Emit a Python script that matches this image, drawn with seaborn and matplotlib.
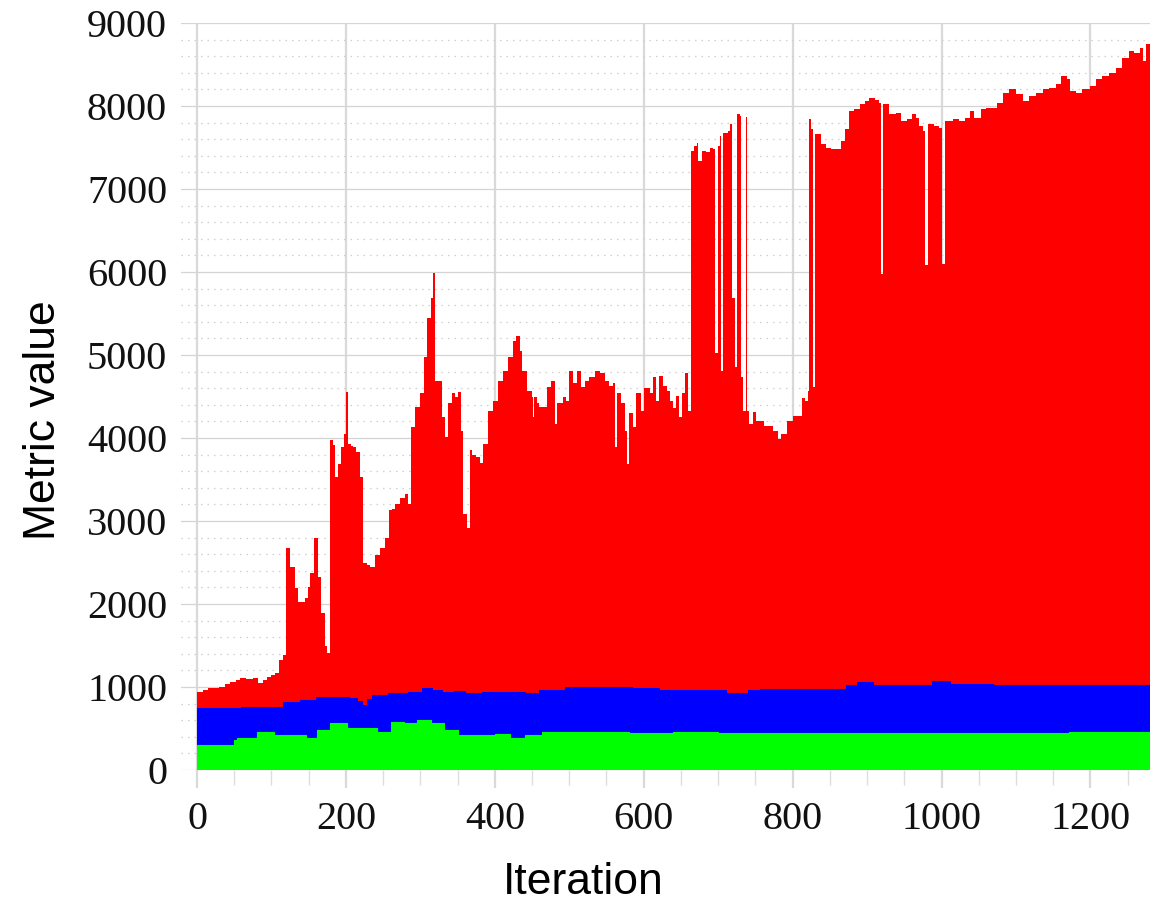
import numpy as np
import pandas as pd
import matplotlib
matplotlib.use("Agg")
import matplotlib.pyplot as plt
from matplotlib.ticker import MultipleLocator
import seaborn as sns

# red layer: cumulative top (iteration, value)
red_x = [0, 8, 15, 21, 30, 38, 44, 52, 58, 66, 75, 82, 88, 94, 100, 105, 110, 116,
         120, 125, 131, 136, 142, 145, 149, 152, 157, 161, 163, 167, 172, 175,
         178, 183, 186, 190, 194, 198, 200, 203, 207, 210, 214, 219, 223, 228,
         232, 239, 246, 252, 258, 262, 266, 272, 279, 284, 287, 293, 299, 305,
         309, 314, 317, 320, 325, 329, 333, 337, 342, 346, 350, 354, 357, 362,
         366, 370, 375, 380, 384, 391, 397, 404, 411, 418, 424, 428, 434, 436,
         443, 450, 451, 453, 456, 460, 464, 470, 476, 481, 483, 487, 491, 496,
         500, 505, 511, 516, 521, 527, 534, 541, 548, 554, 559, 562, 564, 570,
         575, 578, 580, 585, 590, 597, 601, 608, 612, 617, 621, 626, 631, 635,
         639, 644, 648, 652, 656, 659, 663, 668, 671, 673, 678, 684, 689, 693,
         696, 700, 702, 704, 707, 713, 716, 719, 722, 725, 729, 731, 734, 737,
         739, 742, 747, 751, 756, 762, 769, 774, 780, 785, 792, 800, 807, 812,
         816, 820, 822, 825, 827, 830, 834, 838, 845, 852, 861, 865, 870, 876,
         883, 890, 897, 903, 910, 916, 919, 922, 930, 939, 946, 953, 960, 966,
         970, 975, 978, 982, 990, 996, 1000, 1004, 1015, 1024, 1031, 1038, 1044,
         1053, 1060, 1069, 1075, 1082, 1091, 1100, 1109, 1118, 1127, 1136, 1145,
         1154, 1161, 1168, 1172, 1181, 1189, 1199, 1208, 1216, 1225, 1235, 1243,
         1252, 1259, 1266, 1270, 1274, 1280]
red_top = [940, 960, 990, 990, 1000, 1040, 1060, 1080, 1110, 1100, 1110, 1050, 1080,
           1120, 1140, 1170, 1320, 1380, 2680, 2440, 2190, 2020, 2030, 2070, 2200,
           2370, 2790, 2800, 2320, 1890, 1500, 1410, 3970, 3910, 3530, 3690, 3890,
           4050, 4550, 3930, 3900, 3890, 3830, 3530, 2500, 2470, 2440, 2590, 2680,
           2800, 3130, 3150, 3210, 3280, 3330, 3210, 4130, 4370, 4540, 4970, 5450,
           5690, 5990, 4690, 4690, 4250, 4010, 4420, 4540, 4490, 4550, 4090, 3090,
           2920, 3850, 3800, 3770, 3700, 3930, 4330, 4450, 4690, 4810, 4970, 5170,
           5230, 5050, 4810, 4570, 4490, 4250, 4490, 4420, 4370, 4370, 4610, 4690,
           4170, 4420, 4420, 4490, 4450, 4810, 4660, 4810, 4610, 4690, 4730, 4810,
           4780, 4690, 4630, 4660, 3890, 4540, 4420, 4090, 3690, 4300, 4130, 4540,
           4330, 4600, 4540, 4730, 4450, 4750, 4630, 4570, 4450, 4360, 4510, 4250,
           4540, 4780, 4330, 7460, 7520, 7560, 7340, 7460, 7440, 7500, 7480, 5020,
           7520, 7640, 4810, 7680, 7700, 7780, 5690, 4850, 7900, 7880, 4730, 4330,
           7870, 4330, 4170, 4310, 4210, 4210, 4150, 4150, 4090, 3990, 4050, 4210,
           4270, 4270, 4480, 4450, 4570, 7840, 7720, 4620, 7660, 7660, 7540, 7500,
           7480, 7480, 7580, 7720, 7940, 7960, 8020, 8060, 8100, 8070, 8040, 5980,
           8020, 7900, 7920, 7820, 7840, 7900, 7860, 7760, 7700, 6080, 7780, 7760,
           7740, 6100, 7820, 7840, 7820, 7860, 7940, 7860, 7960, 7980, 7980, 8040,
           8160, 8200, 8140, 8060, 8120, 8160, 8200, 8220, 8260, 8360, 8330, 8180,
           8160, 8200, 8240, 8330, 8360, 8400, 8460, 8580, 8660, 8640, 8700, 8540,
           8750, 8900]

# blue layer: cumulative top
blue_x = [0, 20, 48, 59, 94, 115, 138, 160, 181, 204, 215, 222, 228, 235, 257, 284,
          302, 315, 329, 345, 360, 383, 409, 441, 459, 494, 539, 584, 620, 660, 702,
          710, 728, 740, 756, 859, 872, 886, 908, 935, 971, 987, 1011, 1069, 1150,
          1230, 1280]
blue_top = [746, 750, 746, 758, 760, 818, 842, 878, 878, 866, 830, 782, 860, 902, 926,
            938, 986, 960, 938, 950, 926, 938, 938, 926, 962, 998, 998, 986, 962, 962,
            962, 926, 926, 962, 974, 974, 1030, 1058, 1022, 1022, 1022, 1070, 1034,
            1022, 1025, 1030, 1046]

# green layer: top
green_x = [0, 38, 46, 50, 54, 72, 81, 103, 139, 146, 161, 179, 202, 224, 242, 260, 278,
           296, 314, 332, 350, 373, 400, 420, 440, 463, 520, 580, 639, 700, 800, 900,
           1000, 1100, 1171, 1280]
green_top = [300, 300, 300, 360, 385, 385, 457, 421, 421, 385, 481, 565, 505, 505, 457,
             577, 565, 601, 565, 481, 421, 421, 430, 385, 421, 457, 460, 450, 457, 445,
             445, 440, 445, 445, 457, 457]

x_ticks = [0, 200, 400, 600, 800, 1000, 1200]
y_ticks = [0, 1000, 2000, 3000, 4000, 5000, 6000, 7000, 8000, 9000]

sns.set_theme(style="white")
plt.rcParams["font.family"] = ["Liberation Serif", "DejaVu Serif"]

fig = plt.figure(figsize=(11.5, 9.06), dpi=100)
ax = fig.add_axes([181 / 1150, 1 - 770 / 906, 1 - 181 / 1150, (770 - 23) / 906])

layers = [
    (red_x, red_top, "#ff0000"),
    (blue_x, blue_top, "#0000ff"),
    (green_x, green_top, "#00ff00"),
]
for xs, ys, col in layers:
    ax.fill_between(xs, 0, ys, step="post", color=col, linewidth=0, zorder=2)

# thin boundary lines between the layers
for xs, ys, col in layers[1:]:
    df = pd.DataFrame({"iteration": xs, "value": ys})
    sns.lineplot(data=df, x="iteration", y="value", ax=ax, color=col,
                 linewidth=0.8, drawstyle="steps-post", zorder=3, sort=False)

ax.set_xlim(-21.5, 1280)
ax.set_ylim(0, 9000)
ax.set_xticks(x_ticks)
ax.set_yticks(y_ticks)
ax.xaxis.set_minor_locator(MultipleLocator(50))
ax.yaxis.set_minor_locator(MultipleLocator(200))

ax.grid(False)
ax.grid(axis="x", which="major", color="#d9d9d9", linewidth=1.6, zorder=0)
ax.grid(axis="y", which="major", color="#d4d4d4", linewidth=0.9, zorder=0)
ax.grid(axis="y", which="minor", color="#cfcfcf", linewidth=0.9,
        linestyle=(0, (1.2, 4)), zorder=0)
ax.set_axisbelow(True)

for s in ax.spines.values():
    s.set_visible(False)

ax.tick_params(axis="x", which="major", direction="out", length=13, width=1.6,
               color="#d9d9d9", pad=9, labelsize=29, bottom=True)
ax.tick_params(axis="x", which="minor", direction="out", length=11, width=1.0,
               color="#dddddd", bottom=True)
ax.tick_params(axis="y", which="both", length=0, pad=10, labelsize=29, left=True)
for lab in ax.get_xticklabels() + ax.get_yticklabels():
    lab.set_color("#111111")

ax.set_xlabel("Iteration", fontsize=32, family=["Liberation Sans", "DejaVu Sans"],
              va="center", color="black")
ax.set_ylabel("Metric value", fontsize=32, family=["Liberation Sans", "DejaVu Sans"],
              va="center", color="black")
ax.xaxis.set_label_coords(0.415, -0.150)
ax.yaxis.set_label_coords(-0.1424, 0.4685)

fig.savefig("out.png", dpi=100)
plt.close(fig)
